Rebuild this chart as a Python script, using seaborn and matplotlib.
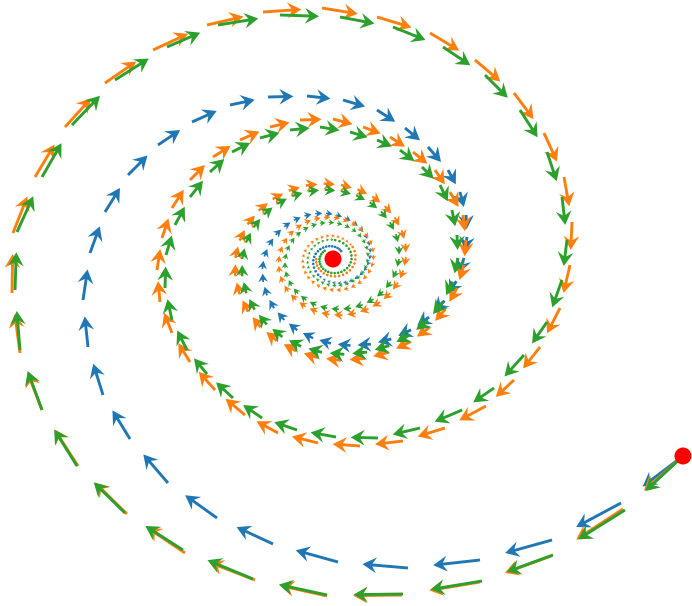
import numpy as np
import matplotlib
matplotlib.use("Agg")
import matplotlib.pyplot as plt
import seaborn as sns

# Spiral centre (the optimum) and the common starting point, in canvas units
center = (333.0, 259.0)
start = (683.0, 456.0)
y_squash = 0.89  # vertical compression of the plotted orbits

# ---- blue trajectory: measured outer turn, then inner turns in polar form
blue_x = [683, 621, 552, 480, 408, 338, 273, 217, 168, 130, 103, 88, 83, 90, 105,
          128, 158, 192, 230, 268, 307, 343, 377, 405, 428, 448, 460, 466, 467, 464]
blue_y = [456, 503, 540, 560, 568, 562, 544, 518, 483, 439, 395, 347, 300, 253, 212,
          175, 145, 122, 105, 97, 96, 100, 110, 128, 147, 170, 192, 215, 237, 258]
blue_inner_deg = [11.4, 22.8, 34.2, 45.6, 57, 68.4, 79.8, 91.2, 102.6, 114, 125.4, 136.8,
                  148.2, 159.6, 171, 182.4, 193.8, 205.2, 216.6, 228, 239.4, 250.8, 262.2,
                  273.6, 285, 296.4, 307.8, 319.2, 330.6, 342, 353.4, 364.8, 376.2, 387.6,
                  399, 410.4, 421.8, 433.2, 444.6, 456, 467.4, 478.8, 490.2, 501.6, 513,
                  524.4, 535.8, 547.2, 558.6, 570, 581.4, 592.8, 604.2, 615.6, 627, 638.4,
                  649.8, 661.2, 672.6, 684]
blue_inner_rad = [125.8, 120.9, 116.1, 111.5, 107.1, 102.9, 98.8, 94.9, 91.2, 87.6, 84.1,
                  80.8, 77.6, 74.5, 71.6, 68.8, 66.0, 63.4, 60.9, 58.5, 56.2, 54.0, 51.9,
                  49.8, 47.8, 45.9, 44.1, 42.4, 40.7, 39.1, 37.6, 36.1, 34.7, 33.3, 32.0,
                  30.7, 29.5, 28.3, 27.2, 26.1, 25.1, 24.1, 23.1, 22.2, 21.3, 20.5, 19.7,
                  18.9, 18.2, 17.4, 16.8, 16.1, 15.5, 14.9, 14.3, 13.7, 13.2, 12.6, 12.1,
                  11.7]

# ---- orange trajectory
orange_x = [683, 623, 551, 480, 402, 327, 255, 185, 127, 78, 42, 20, 12, 13, 35,
            65, 105, 153, 207, 263, 322, 377, 430, 475, 514, 544, 564, 572, 570, 560,
            540, 514, 486, 445, 403, 360, 318, 278, 245, 215, 190, 172, 160, 157, 162,
            172, 190, 213, 240, 270, 300, 333, 363, 390, 413, 435, 450, 463, 466, 464,
            457]
orange_y = [456, 509, 556, 582, 595, 596, 580, 553, 514, 466, 410, 353, 293, 233, 177,
            127, 83, 50, 25, 12, 8, 17, 33, 60, 93, 133, 177, 222, 265, 308,
            347, 380, 406, 428, 441, 446, 443, 433, 415, 390, 362, 333, 302, 270, 238,
            208, 180, 157, 140, 127, 120, 119, 127, 137, 152, 170, 192, 215, 240, 265,
            288]
orange_inner_deg = [26.6, 38.4, 50.3, 62.1, 74.0, 85.9, 97.7, 109.6, 121.4, 133.3, 145.1,
                    157.0, 168.8, 180.7, 192.5, 204.4, 216.2, 228.1, 240.0, 251.8, 263.7,
                    275.5, 287.4, 299.2, 311.0, 322.9, 334.7, 346.6, 358.4, 370.3, 382.1,
                    394.0, 405.8, 417.7, 429.5, 441.4, 453.2, 465.1, 477.0, 488.8, 500.7,
                    512.5, 524.4, 536.2, 548.1, 559.9, 571.8, 583.6, 595.5, 607.3, 619.2,
                    631.0, 642.9, 654.7, 666.6, 678.4, 690.3, 702.1, 714.0, 725.8, 737.7,
                    749.5, 761.4, 773.2, 785.1, 796.9, 808.8, 820.6, 832.5, 844.3, 856.2,
                    868.0, 879.9, 891.7, 903.6, 915.4, 927.3, 939.1, 951.0, 962.8, 974.7,
                    986.5, 998.4, 1010.2, 1022.1, 1033.9, 1045.8, 1057.6, 1069.5, 1081.3,
                    1093.2, 1105.0, 1116.9, 1128.7, 1140.6, 1152.4, 1164.3, 1176.1,
                    1188.0, 1199.8, 1211.7, 1223.5, 1235.4, 1247.2, 1259.1, 1270.9]
orange_inner_rad = [125.7, 123.3, 120.9, 118.6, 116.3, 114.1, 111.9, 109.7, 107.6, 105.5,
                    103.5, 101.5, 99.6, 97.7, 95.8, 93.9, 92.1, 90.4, 88.6, 86.9, 85.3,
                    83.6, 82.0, 80.5, 78.9, 77.4, 75.9, 74.5, 73.0, 71.6, 70.3, 68.9,
                    67.6, 66.3, 65.0, 63.8, 62.5, 61.3, 60.2, 59.0, 57.9, 56.8, 55.7,
                    54.6, 53.6, 52.5, 51.5, 50.5, 49.6, 48.6, 47.7, 46.8, 45.9, 45.0,
                    44.1, 43.3, 42.5, 41.6, 40.8, 40.1, 39.3, 38.5, 37.8, 37.1, 36.4,
                    35.7, 35.0, 34.3, 33.7, 33.0, 32.4, 31.8, 31.2, 30.6, 30.0, 29.4,
                    28.8, 28.3, 27.7, 27.2, 26.7, 26.2, 25.7, 25.2, 24.7, 24.2, 23.8,
                    23.3, 22.9, 22.4, 22.0, 21.6, 21.2, 20.8, 20.4, 20.0, 19.6, 19.2,
                    18.8, 18.5, 18.1, 17.8, 17.5, 17.1, 16.8, 16.5]

# ---- green trajectory
green_x = [683, 625, 553, 482, 403, 327, 253, 183, 125, 77, 42, 20, 15, 17, 42,
           72, 115, 167, 218, 280, 340, 393, 443, 485, 520, 547, 562, 567, 562, 547,
           524, 494, 462, 420, 378, 336, 297, 262, 233, 207, 187, 172, 165, 166, 175,
           190, 210, 232, 260, 290, 320, 350, 377, 400, 422, 440, 452, 457, 458]
green_y = [456, 510, 555, 581, 594, 595, 579, 550, 513, 466, 410, 350, 290, 232, 177,
           125, 80, 47, 25, 15, 17, 27, 47, 75, 110, 152, 197, 240, 280, 322,
           355, 388, 410, 428, 438, 437, 430, 418, 398, 374, 350, 320, 288, 255, 225,
           197, 172, 152, 138, 130, 127, 132, 140, 150, 167, 185, 210, 235, 258]
green_inner_deg = [12, 24, 36, 48, 60, 72, 84, 96, 108, 120, 132, 144, 156, 168, 180,
                   192, 204, 216, 228, 240, 252, 264, 276, 288, 300, 312, 324, 336, 348,
                   360, 372, 384, 396, 408, 420, 432, 444, 456, 468, 480, 492, 504, 516,
                   528, 540, 552, 564, 576, 588, 600, 612, 624, 636, 648, 660, 672, 684,
                   696, 708, 720, 732, 744, 756, 768, 780, 792, 804, 816, 828, 840, 852,
                   864, 876, 888, 900, 912, 924, 936, 948, 960, 972, 984, 996, 1008,
                   1020, 1032, 1044, 1056, 1068, 1080, 1092, 1104, 1116, 1128, 1140,
                   1152, 1164, 1176, 1188, 1200, 1212, 1224, 1236, 1248, 1260, 1272,
                   1284, 1296, 1308, 1320]
green_inner_rad = [122.4, 119.8, 117.3, 114.8, 112.4, 110.0, 107.7, 105.5, 103.3, 101.1,
                   99.0, 96.9, 94.8, 92.8, 90.9, 89.0, 87.1, 85.3, 83.5, 81.7,
                   80.0, 78.3, 76.7, 75.1, 73.5, 71.9, 70.4, 68.9, 67.5, 66.1,
                   64.7, 63.3, 62.0, 60.7, 59.4, 58.2, 56.9, 55.7, 54.6, 53.4,
                   52.3, 51.2, 50.1, 49.1, 48.0, 47.0, 46.0, 45.1, 44.1, 43.2,
                   42.3, 41.4, 40.5, 39.7, 38.8, 38.0, 37.2, 36.4, 35.7, 34.9,
                   34.2, 33.5, 32.8, 32.1, 31.4, 30.7, 30.1, 29.5, 28.8, 28.2,
                   27.6, 27.1, 26.5, 25.9, 25.4, 24.9, 24.3, 23.8, 23.3, 22.8,
                   22.4, 21.9, 21.4, 21.0, 20.5, 20.1, 19.7, 19.3, 18.9, 18.5,
                   18.1, 17.8, 17.4, 17.0, 16.7, 16.3, 16.0, 15.7, 15.3, 15.0,
                   14.7, 14.4, 14.1, 13.8, 13.5, 13.2, 12.9, 12.7, 12.4, 12.2]


def trajectory(xs, ys, deg, rad):
    """Join the measured outer points with the inner polar points."""
    phi = np.deg2rad(np.asarray(deg, dtype=float))
    r = np.asarray(rad, dtype=float)
    ix = center[0] + r * np.cos(phi)
    iy = center[1] + y_squash * r * np.sin(phi)
    return (np.concatenate([np.asarray(xs, float), ix]),
            np.concatenate([np.asarray(ys, float), iy]))


sns.set_theme(style="white")
palette = sns.color_palette("tab10")

fig = plt.figure(figsize=(6.92, 6.06), dpi=100)
ax = fig.add_axes([0, 0, 1, 1])

series = [
    (blue_x, blue_y, blue_inner_deg, blue_inner_rad, palette[0], 2),
    (orange_x, orange_y, orange_inner_deg, orange_inner_rad, palette[1], 3),
    (green_x, green_y, green_inner_deg, green_inner_rad, palette[2], 4),
]

step_fraction = 0.65  # each arrow covers this share of the step to the next iterate
for xs, ys, deg, rad, color, z in series:
    px, py = trajectory(xs, ys, deg, rad)
    dx, dy = np.diff(px), np.diff(py)
    ax.quiver(px[:-1], py[:-1], dx, dy, angles="xy", scale_units="xy",
              scale=1.0 / step_fraction, color=color, width=0.0042,
              headwidth=5.4, headlength=4.8, headaxislength=3.4, zorder=z)

sns.scatterplot(x=[start[0], center[0]], y=[start[1], center[1]], color="red",
                s=150, edgecolor="none", ax=ax, zorder=6, legend=False)

ax.set_xlim(0, 692)
ax.set_ylim(606, 0)
ax.axis("off")

fig.savefig("out.png", dpi=100)
